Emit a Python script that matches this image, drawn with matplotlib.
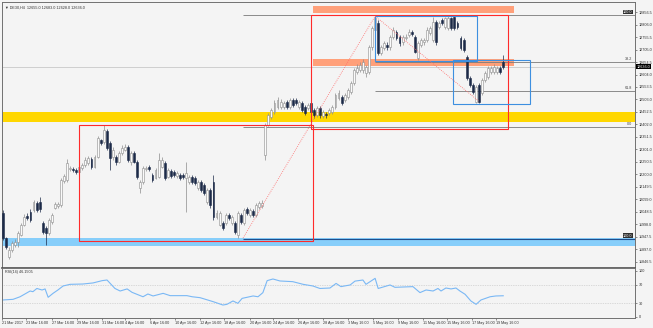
import numpy as np
import matplotlib.pyplot as plt
from matplotlib.patches import Rectangle
import matplotlib.transforms as mtransforms

plt.rcParams['font.family'] = ['Liberation Sans', 'DejaVu Sans']

# DE30 H4 candles
opens = [12045, 11943, 11866, 11895, 11915, 11927, 11956, 11996, 12032, 12049,
         12057, 12085, 12090, 12004, 11984, 11964, 12008, 12065, 12073, 12077,
         12174, 12178, 12222, 12222, 12218, 12210, 12226, 12238, 12246, 12263,
         12230, 12271, 12339, 12331, 12376, 12327, 12271, 12271, 12250, 12287,
         12299, 12311, 12250, 12287, 12250, 12145, 12170, 12222, 12230, 12198,
         12186, 12190, 12230, 12246, 12190, 12214, 12210, 12194, 12198, 12198,
         12186, 12170, 12190, 12186, 12145, 12170, 12158, 12089, 12137, 12170,
         12028, 11996, 12004, 12004, 12036, 12004, 12004, 11956, 12036, 12004,
         12061, 12036, 12053, 12036, 12069, 12073, 12279, 12400, 12432, 12453,
         12473, 12473, 12473, 12493, 12473, 12501, 12501, 12473, 12489, 12473,
         12469, 12489, 12461, 12440, 12469, 12436, 12444, 12449, 12453, 12473,
         12509, 12513, 12501, 12513, 12533, 12570, 12614, 12622, 12622, 12610,
         12614, 12715, 12784, 12812, 12691, 12711, 12723, 12715, 12756, 12776,
         12756, 12735, 12752, 12764, 12776, 12756, 12671, 12723, 12735, 12743,
         12772, 12743, 12816, 12796, 12824, 12796, 12792, 12832, 12836, 12812,
         12752, 12743, 12675, 12590, 12562, 12493, 12562, 12529, 12582, 12594,
         12614, 12614, 12614, 12630, 12655]
highs = [12055, 11948, 11905, 11930, 11940, 11972, 12004, 12040, 12045, 12060,
         12098, 12093, 12110, 12012, 11990, 12024, 12045, 12090, 12090, 12186,
         12200, 12262, 12235, 12230, 12225, 12240, 12248, 12270, 12275, 12272,
         12280, 12355, 12345, 12400, 12385, 12335, 12310, 12280, 12295, 12318,
         12325, 12320, 12295, 12295, 12258, 12178, 12235, 12235, 12240, 12205,
         12225, 12287, 12270, 12255, 12225, 12222, 12218, 12214, 12206, 12206,
         12250, 12198, 12198, 12194, 12178, 12178, 12165, 12145, 12145, 12198,
         12055, 12053, 12012, 12045, 12045, 12036, 12012, 12053, 12045, 12065,
         12070, 12065, 12061, 12085, 12093, 12095, 12410, 12450, 12470, 12500,
         12515, 12505, 12498, 12502, 12510, 12510, 12510, 12500, 12497, 12480,
         12490, 12497, 12468, 12476, 12476, 12461, 12452, 12468, 12480, 12530,
         12540, 12520, 12530, 12550, 12578, 12630, 12645, 12655, 12665, 12642,
         12723, 12800, 12841, 12825, 12725, 12740, 12735, 12765, 12795, 12785,
         12764, 12764, 12768, 12788, 12784, 12765, 12740, 12752, 12752, 12795,
         12800, 12838, 12825, 12820, 12832, 12838, 12841, 12838, 12841, 12820,
         12760, 12750, 12683, 12598, 12570, 12562, 12570, 12590, 12618, 12640,
         12640, 12645, 12640, 12638, 12683]
lows = [11935, 11898, 11858, 11888, 11905, 11905, 11950, 11990, 12016, 12008,
        12050, 12050, 12050, 11960, 11915, 11956, 12000, 12060, 12065, 12070,
        12165, 12170, 12212, 12210, 12200, 12205, 12220, 12230, 12240, 12222,
        12225, 12265, 12320, 12325, 12300, 12218, 12260, 12240, 12245, 12280,
        12295, 12250, 12240, 12245, 12180, 12125, 12160, 12212, 12215, 12170,
        12180, 12185, 12225, 12178, 12185, 12186, 12190, 12186, 12178, 12180,
        12049, 12160, 12162, 12158, 12137, 12129, 12115, 12080, 12065, 12016,
        12020, 11990, 11976, 11996, 12016, 11996, 11960, 11943, 12000, 11996,
        12036, 12028, 12028, 12028, 12061, 12065, 12259, 12395, 12425, 12445,
        12465, 12465, 12465, 12465, 12465, 12473, 12480, 12465, 12453, 12440,
        12460, 12445, 12430, 12432, 12430, 12428, 12430, 12440, 12445, 12465,
        12500, 12480, 12493, 12505, 12525, 12560, 12605, 12615, 12612, 12594,
        12605, 12705, 12775, 12683, 12683, 12703, 12705, 12705, 12748, 12745,
        12720, 12725, 12745, 12755, 12760, 12691, 12663, 12715, 12725, 12735,
        12764, 12735, 12725, 12788, 12804, 12788, 12785, 12784, 12784, 12788,
        12703, 12695, 12582, 12555, 12525, 12489, 12489, 12520, 12575, 12585,
        12605, 12605, 12605, 12605, 12628]
closes = [11943, 11907, 11895, 11923, 11927, 11964, 11996, 12028, 12024, 12016,
          12089, 12057, 12060, 11968, 11964, 12016, 12036, 12081, 12081, 12178,
          12194, 12246, 12226, 12218, 12210, 12230, 12238, 12259, 12267, 12230,
          12271, 12347, 12327, 12380, 12307, 12267, 12299, 12250, 12287, 12307,
          12311, 12259, 12287, 12250, 12190, 12170, 12226, 12226, 12222, 12178,
          12218, 12259, 12259, 12186, 12218, 12194, 12198, 12206, 12186, 12190,
          12206, 12190, 12170, 12166, 12170, 12137, 12125, 12137, 12077, 12028,
          12045, 12045, 11984, 12036, 12024, 12028, 11968, 12045, 12008, 12057,
          12045, 12057, 12036, 12077, 12085, 12085, 12400, 12440, 12461, 12489,
          12501, 12493, 12489, 12473, 12501, 12481, 12489, 12493, 12461, 12449,
          12481, 12453, 12440, 12469, 12440, 12453, 12440, 12461, 12473, 12521,
          12529, 12489, 12521, 12541, 12570, 12622, 12630, 12642, 12655, 12634,
          12715, 12792, 12832, 12691, 12715, 12731, 12715, 12756, 12784, 12752,
          12731, 12756, 12756, 12776, 12768, 12695, 12731, 12743, 12743, 12784,
          12792, 12816, 12735, 12812, 12812, 12832, 12832, 12792, 12792, 12796,
          12711, 12703, 12590, 12562, 12533, 12554, 12493, 12582, 12610, 12630,
          12630, 12634, 12630, 12614, 12636]

# RSI(14) line, read at bar positions
rsi_x = [0, 3.3, 5.6, 8.9, 9.8, 11.1, 12.8, 13.8, 14.8, 16.4, 18, 19.7, 22, 26.2,
         29.5, 32.5, 34.1, 36.7, 38.4, 40.7, 42.3, 45.9, 47.5, 49.2, 52.5, 54.8,
         60.3, 62, 64.6, 68.9, 72.1, 73.4, 75.4, 77, 78.4, 80, 82, 83.6, 85.2,
         86.6, 88.5, 90.8, 95, 98.4, 101.6, 103.9, 107.2, 109.2, 110.8, 113.8,
         115.4, 118, 119, 122, 123, 126.9, 128.5, 134.4, 136.7, 138.7, 141,
         142.6, 143.6, 145.2, 146.9, 148.5, 149.8, 151.5, 153.4, 155.1, 156.7,
         159.7, 161.6, 164]
rsi_v = [37, 38.4, 44, 56.5, 55, 62, 58.7, 61, 42.8, 51.4, 58.7, 67.4, 71, 71.7,
         74, 79, 80.4, 62, 56.5, 61, 53.6, 44, 50, 45.7, 51.4, 46.4,
         46.4, 44, 42, 33.3, 26, 27.5, 34.8, 29.7, 40.5, 42.8, 45.7, 44, 52.9,
         79, 82.6, 78.3, 76.8, 71, 67.4, 62, 63, 73, 66, 69.6,
         78, 80.4, 71, 84, 62, 69.6, 64.5, 66, 53, 58.7, 56.5,
         62, 56.5, 63, 61, 63, 56.5, 49.3, 34.8, 27.5, 37,
         44, 45.7, 46.15]

time_pos = [-0.3, 7.5, 16.1, 24.3, 32.5, 40, 48.2, 56.4, 64.6, 72.5, 81, 88.5,
            96.7, 104.9, 113.1, 121.3, 129.5, 137.7, 145.6, 153.8, 161.6]
time_labels = ["21 Mar 2017", "23 Mar 16:00", "27 Mar 16:00", "29 Mar 16:00",
               "31 Mar 16:00", "4 Apr 16:00", "6 Apr 16:00", "10 Apr 16:00",
               "12 Apr 16:00", "18 Apr 16:00", "20 Apr 16:00", "24 Apr 16:00",
               "26 Apr 16:00", "28 Apr 16:00", "3 May 16:00", "5 May 16:00",
               "9 May 16:00", "11 May 16:00", "15 May 16:00", "17 May 16:00",
               "19 May 16:00"]

price_ticks = [12856.5 - 50.5 * k for k in range(21)]
last_price = 12636.0

W, H = 653, 328
def box(x0, y0, x1, y1):
    return [x0 / W, 1 - y1 / H, (x1 - x0) / W, (y1 - y0) / H]

bg = '#f4f4f4'
fig = plt.figure(figsize=(6.53, 3.28), dpi=100)
fig.patch.set_facecolor(bg)
ax = fig.add_axes(box(2, 2, 635, 268))
rx = fig.add_axes(box(2, 268, 635, 318), sharex=ax)

XR = 207.2
for a in (ax, rx):
    a.set_facecolor(bg)
    for s in a.spines.values():
        s.set_color('#707070')
        s.set_linewidth(0.7)
ax.spines['bottom'].set_linewidth(1.2)
ax.spines['bottom'].set_color('#505050')
ax.set_xlim(-0.33, XR)
ax.set_ylim(11822, 12897)

# zones
ax.axhspan(11911, 11943, color='#87cefa', lw=0, zorder=1)
ax.axhspan(12412, 12453, color='#ffd700', lw=0, zorder=1)
ax.add_patch(Rectangle((101.6, 12852), 65.9, 29, color='#ffa07a', lw=0, zorder=1))
ax.add_patch(Rectangle((101.6, 12638), 65.9, 29, color='#ffa07a', lw=0, zorder=1))

# levels
ax.axhline(last_price, color='#c8c8c8', lw=0.6, zorder=2)
gray = '#7a7a7a'
ax.hlines([12844, 12392], 78.7, XR, color=gray, lw=0.6, zorder=2)
ax.hlines([12655, 12537], 122, XR, color=gray, lw=0.6, zorder=2)
ax.hlines(11940, 78.7, XR, color='#1f4e8c', lw=0.8, zorder=2)

# candles
x = np.arange(len(opens))
o = np.array(opens, float)
h = np.array(highs, float)
l = np.array(lows, float)
c = np.array(closes, float)
up = c >= o
up_col, dn_col = '#8c8c8c', '#1c2a48'
ax.vlines(x[up], l[up], h[up], color=up_col, lw=0.5, zorder=3)
ax.vlines(x[~up], l[~up], h[~up], color=dn_col, lw=0.5, zorder=3)
ax.bar(x[up], np.maximum(c - o, 2)[up], bottom=o[up], width=0.62,
       color='#fafafa', edgecolor=up_col, lw=0.4, zorder=4)
ax.bar(x[~up], np.maximum(o - c, 2)[~up], bottom=c[~up], width=0.62,
       color=dn_col, edgecolor=dn_col, lw=0.4, zorder=4)

# drawings
red = '#ff2a2a'
ax.add_patch(Rectangle((24.9, 11931), 76.7, 469, fill=False, ec=red, lw=0.8, zorder=5))
ax.add_patch(Rectangle((101.0, 12384), 64.6, 460, fill=False, ec=red, lw=0.8, zorder=5))
blue = '#3d8fe0'
ax.add_patch(Rectangle((122, 12659), 33.4, 181, fill=False, ec=blue, lw=0.8, zorder=5))
ax.add_patch(Rectangle((147.5, 12485), 25.3, 178, fill=False, ec=blue, lw=0.8, zorder=5))
ax.plot([78.7, 122], [11943, 12840], color='#ff6a6a', lw=0.6, ls=(0, (1, 1.5)), zorder=5)
ax.plot([122, 155.9], [12840, 12497], color='#ff6a6a', lw=0.6, ls=(0, (1, 1.5)), zorder=5)

fs = 2.7
for yv, txt, dark in [(12844, '100.0', True), (12655, '38.2', False),
                      (12537, '61.8', False), (12392, '0.0', False),
                      (11940, '100.0', True)]:
    if dark:
        ax.text(XR - 0.8, yv + 4, txt, ha='right', va='bottom', fontsize=fs,
                color='white', zorder=6,
                bbox=dict(boxstyle='square,pad=0.1', fc='#303030', ec='none'))
    else:
        ax.text(XR - 0.8, yv + 4, txt, ha='right', va='bottom', fontsize=fs,
                color='#404040', zorder=6)

# price axis
ax.yaxis.tick_right()
ax.set_yticks(price_ticks)
ax.set_yticklabels([f"{v:.1f}" for v in price_ticks])
ax.tick_params(axis='y', length=1.5, width=0.5, color='#606060', labelsize=fs,
               labelcolor='#303030', pad=1)
ax.tick_params(axis='x', bottom=False, labelbottom=False)
trans = mtransforms.blended_transform_factory(ax.transAxes, ax.transData)
ax.text(1.002, last_price, f"{last_price:.1f}", transform=trans, ha='left',
        va='center', fontsize=fs, color='white', zorder=7,
        bbox=dict(boxstyle='square,pad=0.15', fc='black', ec='none'))

ax.text(0.005, 0.988, '\u25bc DE30,H4  12655.0 12683.0 12628.0 12636.0',
        transform=ax.transAxes, ha='left', va='top', fontsize=fs, color='#303030')

# RSI panel
rx.set_ylim(-2.2, 106.5)
rx.axhline(70, color='#bdbdbd', lw=0.5, ls=(0, (1, 1.5)))
rx.axhline(30, color='#bdbdbd', lw=0.5, ls=(0, (1, 1.5)))
rx.plot(rsi_x, rsi_v, color='#7ab8f5', lw=0.8)
rx.yaxis.tick_right()
rx.set_yticks([0, 30, 70, 100])
rx.set_yticklabels(['0', '30', '70', '100'])
rx.tick_params(axis='y', length=1.5, width=0.5, color='#606060', labelsize=fs,
               labelcolor='#303030', pad=1)
rx.text(0.005, 0.95, 'RSI(14) 46.1505', transform=rx.transAxes, ha='left',
        va='top', fontsize=fs, color='#303030')

rx.set_xticks(time_pos)
rx.set_xticklabels(time_labels, ha='left')
rx.tick_params(axis='x', length=1.5, width=0.5, color='#606060', labelsize=fs,
               labelcolor='#303030', pad=1)

fig.savefig('out.png', dpi=100, facecolor=bg)
